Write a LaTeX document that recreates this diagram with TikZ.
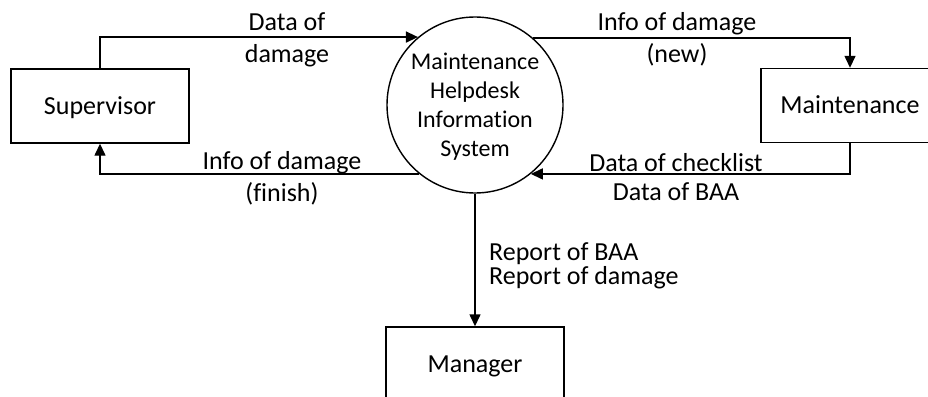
\documentclass[tikz,border=0pt]{standalone}
\usepackage{fontspec}
\setmainfont{Carlito}[Ligatures=NoCommon]
\usetikzlibrary{arrows.meta}
\tikzset{
  flow/.style={line width=1.4pt, -{Triangle[length=12pt,width=11pt]}},
  entity/.style={draw, line width=1.4pt, rectangle, minimum width=178pt, minimum height=74pt,
    inner sep=0pt, text height=16.7pt, text depth=0pt, font=\fontsize{26}{32}\selectfont},
  proc/.style={draw, line width=1.4pt, circle, minimum size=176pt, inner sep=0pt},
  proctext/.style={inner sep=0pt, align=center, anchor=base, font=\fontsize{24}{28.7}\selectfont},
  lbl/.style={inner sep=0pt, align=center, anchor=base, font=\fontsize{26}{32}\selectfont},
}
\begin{document}
\begin{tikzpicture}[x=1pt,y=-1pt]
\useasboundingbox (0,0) rectangle (928,396);
\clip (0,0) rectangle (928,396);
\node[entity] (sup) at (100,106) {Supervisor};
\node[entity] (mnt) at (850,105.5) {Maintenance};
\node[entity] (mgr) at (475,364) {Manager};
\node[proc] (sys) at (475,105) {};
\node[proctext] (syst) at (475,156) {Maintenance\\Helpdesk\\Information\\System};
\draw[flow] (sup.north) |- (sys.130.4);
\draw[flow] (sys.49.6) -| (mnt.north);
\draw[flow] (mnt.south) |- (sys.-51.6);
\draw[flow] (sys.231.6) -| (sup.south);
\draw[flow] (sys.south) -- (mgr.north);
\node[lbl] (l1) at (287,63) {Data of\\damage};
\node[lbl] (l2) at (677,63) {Info of damage\\(new)};
\node[lbl] (l3) at (282,201) {Info of damage\\(finish)};
\node[lbl, font=\fontsize{26}{29}\selectfont] (l4) at (676,200) {Data of checklist\\Data of BAA};
\node[lbl, align=left, anchor=base west, font=\fontsize{26}{20}\selectfont] (l5) at (489,284) {Report of BAA\\Report of damage};
\end{tikzpicture}
\end{document}
